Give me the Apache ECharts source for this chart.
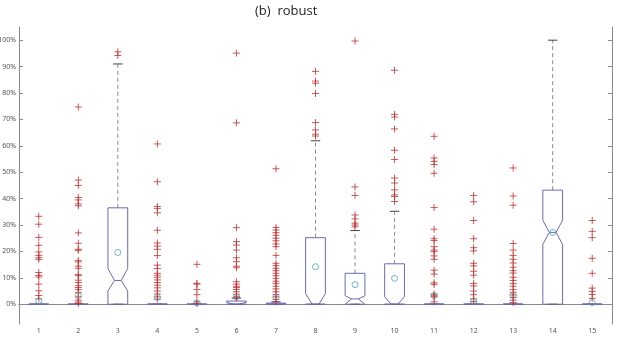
<!DOCTYPE html>
<html>
<head>
<meta charset="utf-8">
<script src="https://cdn.jsdelivr.net/npm/echarts@6/dist/echarts.min.js"></script>
<style>
  html, body {margin: 0; padding: 0; background: #fff;}
  #chart {width: 617px; height: 341px;}
</style>
</head>
<body>
<div id="chart"></div>
<script>
const categories = ['1', '2', '3', '4', '5', '6', '7', '8', '9', '10', '11', '12', '13', '14', '15'];
const yTicks = [0, 10, 20, 30, 40, 50, 60, 70, 80, 90, 100];

// box stats, in %
const q1 =        [0, 0, 0,    0, 0, 0,   0,   0,    0,    0,    0, 0, 0, 0,    0];
const notchLo =   [0, 0, 5,    0, 0, 0,   0,   0,    0,    0,    0, 0, 0, 22.7, 0];
const medians =   [0, 0, 9,    0, 0, 0,   0,   0,    2,    0,    0, 0, 0, 27.2, 0];
const notchHi =   [0, 0, 13.5, 0, 0, 0.8, 0.2, 4,    3.2,  2.8,  0, 0, 0, 31.8, 0];
const q3 =        [0, 0, 36.5, 0, 0, 1.2, 0.4, 25.2, 11.7, 15.3, 0, 0, 0, 43.2, 0];
const whiskerLo = [0, 0, 0,    0, 0, 0,   0,   0,    0,    0,    0, 0, 0, 0,    0];
const whiskerHi = [0, 0, 91,   0, 0, 2.3, 0.9, 61.9, 27.9, 35.2, 0, 0, 0, 100,  0];
const means = [1.3, 3.2, 19.6, 2.6, 0.5, 2.8, 2.6, 14.2, 7.4, 9.8, 3.3, 1.2, 3.2, 27.2, 0.6];

const outliers = [
  [33.3, 30.3, 25.3, 22.3, 19.8, 18.5, 17.6, 17.0, 12.0, 10.9, 10.3, 7.6, 5.1, 3.3, 2.0],
  [74.7, 47.0, 45.0, 40.4, 39.5, 38.0, 37.3, 27.0, 23.1, 20.8, 20.4, 16.5, 16.0, 14.4, 13.6, 11.2, 10.8, 9.1, 8.2, 7.0, 6.3, 5.5, 4.4, 2.8, 1.5, 0.8, 0.3],
  [95.6, 94.2],
  [60.7, 46.4, 37.0, 36.3, 34.6, 28.0, 23.2, 22.0, 20.8, 18.4, 14.8, 13.5, 11.7, 11.0, 10.2, 9.2, 8.2, 7.2, 6.2, 5.0, 3.9, 2.8, 1.9],
  [15.1, 7.9, 7.6, 5.6, 3.6, 0.9, 0.3],
  [95.1, 68.7, 29.0, 23.7, 22.4, 20.5, 17.6, 16.1, 14.4, 13.8, 8.5, 7.6, 6.8, 6.3, 5.6, 4.7, 3.8, 3.0, 2.5],
  [51.3, 29.1, 28.1, 27.1, 26.1, 25.0, 24.0, 22.8, 21.8, 18.5, 15.5, 14.6, 13.6, 12.7, 11.7, 10.8, 9.8, 8.7, 7.9, 6.8, 5.8, 4.7, 3.7, 2.8, 1.8, 0.9],
  [88.2, 84.5, 83.7, 79.8, 68.8, 66.0, 64.4, 63.7],
  [99.7, 44.4, 41.2, 33.8, 32.3, 30.7, 30.0, 29.3],
  [88.6, 71.9, 70.9, 66.4, 58.3, 54.8, 47.8, 45.9, 43.3, 41.4, 40.8, 38.9],
  [63.6, 55.4, 54.1, 52.9, 49.6, 36.6, 28.4, 24.8, 24.1, 21.8, 20.5, 19.9, 18.3, 17.0, 12.9, 11.4, 8.1, 7.5, 3.8, 3.2, 2.8, 0.9],
  [41.2, 38.8, 31.7, 24.8, 21.4, 20.2, 15.5, 14.5, 12.5, 11.0, 7.9, 6.9, 5.0, 3.6, 2.0, 1.0],
  [51.6, 41.0, 37.5, 23.0, 20.5, 18.5, 17.0, 15.6, 14.0, 12.7, 11.8, 10.2, 9.0, 7.8, 6.8, 5.5, 4.5, 3.5, 2.6, 1.5, 0.6],
  [],
  [31.7, 27.6, 25.2, 17.4, 11.7, 6.1, 4.8, 3.7, 2.2]
];

const boxData = categories.map((c, i) => [i, q1[i], notchLo[i], medians[i], notchHi[i], q3[i]]);
const whiskerData = categories.map((c, i) => [i, whiskerLo[i], q1[i], q3[i], whiskerHi[i]]);
const outlierData = [];
outliers.forEach((list, i) => list.forEach(v => outlierData.push([i, v])));
const meanData = means.map((v, i) => [i, v]);

const boxColor = '#6a6ab8';
const axisColor = '#8a8a8a';
const labelStyle = {fontSize: 7, color: '#555', fontFamily: 'Noto Sans'};

const myChart = echarts.init(document.getElementById('chart'));
myChart.setOption({
  animation: false,
  title: {
    text: '(b)  robust',
    left: 250,
    top: 0,
    textStyle: {fontSize: 13, fontWeight: 'normal', color: '#222', fontFamily: 'Open Sans'}
  },
  grid: {left: 19, right: 5, top: 27, bottom: 17, containLabel: false, outerBoundsMode: 'none'},
  xAxis: [{
    type: 'category',
    data: categories,
    axisLine: {lineStyle: {color: axisColor}},
    axisTick: {inside: true, length: 4, alignWithLabel: true, lineStyle: {color: axisColor}},
    axisLabel: Object.assign({margin: 3}, labelStyle)
  }, {
    type: 'category',
    position: 'top',
    data: categories,
    axisLine: {lineStyle: {color: axisColor}},
    axisTick: {inside: true, length: 4, alignWithLabel: true, lineStyle: {color: axisColor}},
    axisLabel: {show: false}
  }],
  yAxis: [{
    type: 'value',
    min: -7.5,
    max: 105,
    splitLine: {show: false},
    axisLine: {show: true, lineStyle: {color: axisColor}},
    axisTick: {show: true, inside: true, length: 4, customValues: yTicks, lineStyle: {color: axisColor}},
    axisLabel: Object.assign({margin: 3, customValues: yTicks, formatter: v => v + '%'}, labelStyle)
  }, {
    type: 'value',
    position: 'right',
    min: -7.5,
    max: 105,
    splitLine: {show: false},
    axisLine: {show: true, lineStyle: {color: axisColor}},
    axisTick: {show: true, inside: true, length: 4, customValues: yTicks, lineStyle: {color: axisColor}},
    axisLabel: {show: false}
  }],
  series: [{
    type: 'custom',
    name: 'whiskers',
    data: whiskerData,
    renderItem(params, api) {
      const idx = api.value(0);
      const x = api.coord([idx, 0])[0];
      const half = api.size([1, 0])[0] * 0.12;
      const y = v => api.coord([idx, v])[1];
      const lo = api.value(1), b = api.value(2), t = api.value(3), hi = api.value(4);
      const dash = {stroke: '#8c8c8c', lineWidth: 1, lineDash: [4, 3]};
      const cap = {stroke: '#444', lineWidth: 1};
      return {
        type: 'group',
        children: [
          {type: 'line', shape: {x1: x, y1: y(t), x2: x, y2: y(hi)}, style: dash},
          {type: 'line', shape: {x1: x, y1: y(b), x2: x, y2: y(lo)}, style: dash},
          {type: 'line', shape: {x1: x - half, y1: y(hi), x2: x + half, y2: y(hi)}, style: cap},
          {type: 'line', shape: {x1: x - half, y1: y(lo), x2: x + half, y2: y(lo)}, style: cap}
        ]
      };
    }
  }, {
    type: 'custom',
    name: 'boxes',
    data: boxData,
    renderItem(params, api) {
      const idx = api.value(0);
      const x = api.coord([idx, 0])[0];
      const bw = api.size([1, 0])[0] * 0.5;
      const y = v => api.coord([idx, v])[1];
      const b = api.value(1), nLo = api.value(2), med = api.value(3), nHi = api.value(4), t = api.value(5);
      const l = x - bw / 2, r = x + bw / 2, inset = bw * 0.33;
      const pts = [
        [l, y(t)], [r, y(t)], [r, y(nHi)], [r - inset, y(med)], [r, y(nLo)], [r, y(b)],
        [l, y(b)], [l, y(nLo)], [l + inset, y(med)], [l, y(nHi)]
      ];
      return {
        type: 'group',
        children: [
          {type: 'polygon', shape: {points: pts}, style: {fill: 'none', stroke: boxColor, lineWidth: 1}},
          {type: 'line', shape: {x1: l + inset, y1: y(med), x2: r - inset, y2: y(med)},
           style: {stroke: boxColor, lineWidth: 1}}
        ]
      };
    }
  }, {
    type: 'scatter',
    name: 'outliers',
    data: outlierData,
    symbol: 'path://M0 4H8M4 0V8',
    symbolSize: 7,
    itemStyle: {color: 'rgba(0,0,0,0)', borderColor: '#bf3030', borderWidth: 1},
    z: 3
  }, {
    type: 'scatter',
    name: 'means',
    data: meanData,
    symbol: 'circle',
    symbolSize: 6,
    itemStyle: {color: 'rgba(0,0,0,0)', borderColor: '#4fa3b5', borderWidth: 1},
    z: 4
  }]
});
</script>
</body>
</html>
